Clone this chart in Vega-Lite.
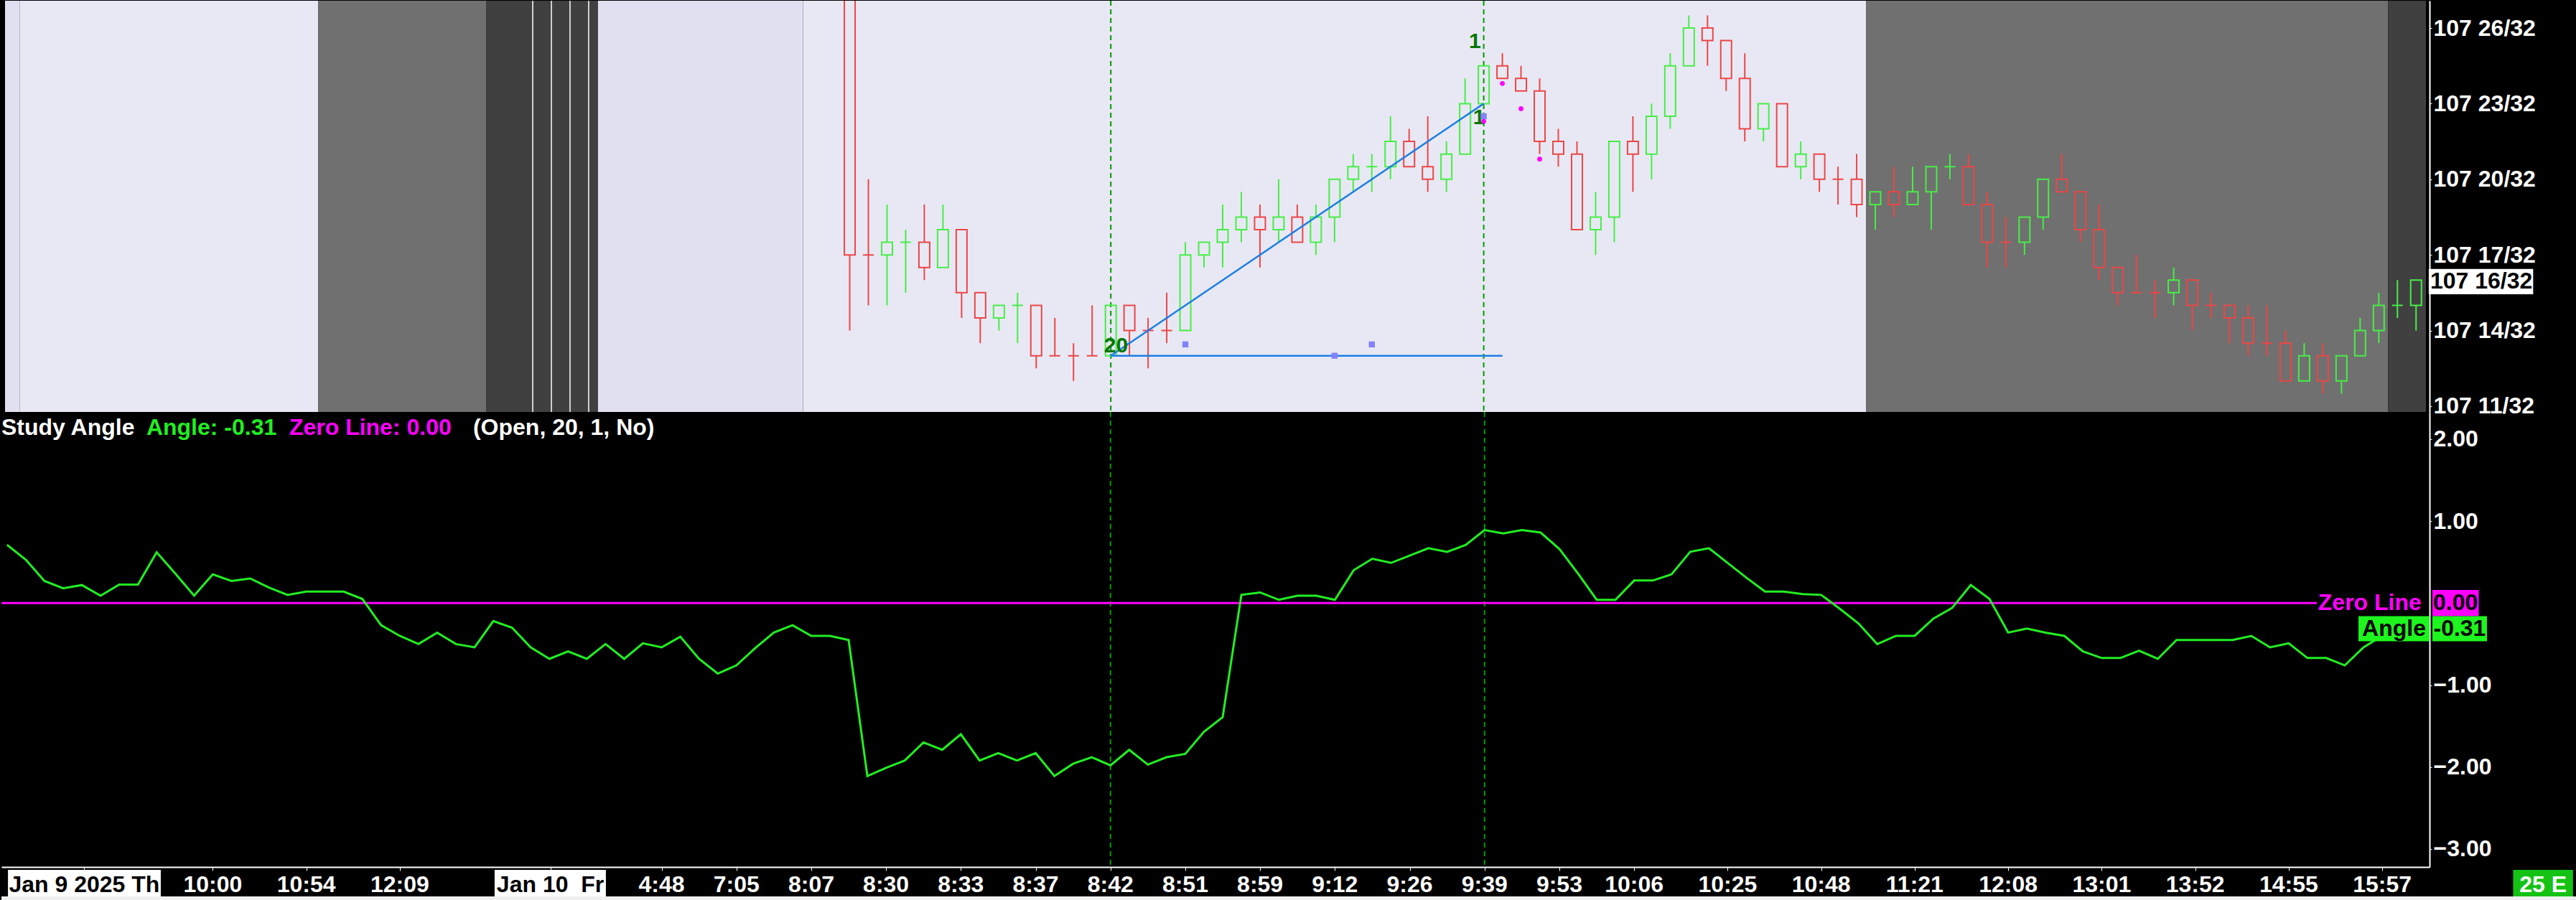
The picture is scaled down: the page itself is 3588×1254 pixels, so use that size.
{
  "$schema": "https://vega.github.io/schema/vega-lite/v6.json",
  "background": "black",
  "padding": {"left": 0, "top": 0, "right": 206, "bottom": 0},
  "bounds": "flush",
  "spacing": 0,
  "config": {
    "view": {"stroke": null},
    "font": "Liberation Sans",
    "concat": {"spacing": 0}
  },
  "resolve": {
    "scale": {"x": "independent", "y": "independent", "color": "independent"},
    "axis": {"x": "independent", "y": "independent"}
  },
  "datasets": {
    "one": [{}],
    "sessions": [
      {"a": -1.3, "b": -0.5, "k": "lav2"},
      {"a": -0.5, "b": 15.5, "k": "lav"},
      {"a": 15.5, "b": 24.5, "k": "gray"},
      {"a": 24.5, "b": 30.5, "k": "dark"},
      {"a": 30.5, "b": 41.5, "k": "lav2"},
      {"a": 41.5, "b": 98.5, "k": "lav"},
      {"a": 98.5, "b": 126.5, "k": "gray"},
      {"a": 126.5, "b": 128.53, "k": "dark"}
    ],
    "breaks": [{"i": 27}, {"i": 28}, {"i": 29}, {"i": 30}],
    "marks": [{"i": 58}, {"i": 78}],
    "candles": [
      {"i": 44, "o": 30, "h": 31, "l": 14, "c": 17, "d": "dn"},
      {"i": 45, "o": 17, "h": 20, "l": 15, "c": 17, "d": "dn"},
      {"i": 46, "o": 17, "h": 19, "l": 15, "c": 17.5, "d": "up"},
      {"i": 47, "o": 17.5, "h": 18, "l": 15.5, "c": 17.5, "d": "up"},
      {"i": 48, "o": 17.5, "h": 19, "l": 16, "c": 16.5, "d": "dn"},
      {"i": 49, "o": 16.5, "h": 19, "l": 16.5, "c": 18, "d": "up"},
      {"i": 50, "o": 18, "h": 18, "l": 14.5, "c": 15.5, "d": "dn"},
      {"i": 51, "o": 15.5, "h": 15.5, "l": 13.5, "c": 14.5, "d": "dn"},
      {"i": 52, "o": 14.5, "h": 15, "l": 14, "c": 15, "d": "up"},
      {"i": 53, "o": 15, "h": 15.5, "l": 13.5, "c": 15, "d": "up"},
      {"i": 54, "o": 15, "h": 15, "l": 12.5, "c": 13, "d": "dn"},
      {"i": 55, "o": 13, "h": 14.5, "l": 13, "c": 13, "d": "dn"},
      {"i": 56, "o": 13, "h": 13.5, "l": 12, "c": 13, "d": "dn"},
      {"i": 57, "o": 13, "h": 15, "l": 13, "c": 13, "d": "dn"},
      {"i": 58, "o": 13, "h": 15, "l": 13, "c": 15, "d": "up"},
      {"i": 59, "o": 15, "h": 15, "l": 13, "c": 14, "d": "dn"},
      {"i": 60, "o": 14, "h": 14.5, "l": 12.5, "c": 14, "d": "dn"},
      {"i": 61, "o": 14, "h": 15.5, "l": 13.5, "c": 14, "d": "dn"},
      {"i": 62, "o": 14, "h": 17.5, "l": 14, "c": 17, "d": "up"},
      {"i": 63, "o": 17, "h": 17.5, "l": 16.5, "c": 17.5, "d": "up"},
      {"i": 64, "o": 17.5, "h": 19, "l": 16.5, "c": 18, "d": "up"},
      {"i": 65, "o": 18, "h": 19.5, "l": 17.5, "c": 18.5, "d": "up"},
      {"i": 66, "o": 18.5, "h": 19, "l": 16.5, "c": 18, "d": "dn"},
      {"i": 67, "o": 18, "h": 20, "l": 17.5, "c": 18.5, "d": "up"},
      {"i": 68, "o": 18.5, "h": 19, "l": 17.5, "c": 17.5, "d": "dn"},
      {"i": 69, "o": 17.5, "h": 19, "l": 17, "c": 18.5, "d": "up"},
      {"i": 70, "o": 18.5, "h": 20, "l": 17.5, "c": 20, "d": "up"},
      {"i": 71, "o": 20, "h": 21, "l": 19.5, "c": 20.5, "d": "up"},
      {"i": 72, "o": 20.5, "h": 21, "l": 19.5, "c": 20.5, "d": "up"},
      {"i": 73, "o": 20.5, "h": 22.5, "l": 20, "c": 21.5, "d": "up"},
      {"i": 74, "o": 21.5, "h": 22, "l": 20.5, "c": 20.5, "d": "dn"},
      {"i": 75, "o": 20.5, "h": 22.5, "l": 19.5, "c": 20, "d": "dn"},
      {"i": 76, "o": 20, "h": 21.5, "l": 19.5, "c": 21, "d": "up"},
      {"i": 77, "o": 21, "h": 24, "l": 21, "c": 23, "d": "up"},
      {"i": 78, "o": 23, "h": 24.5, "l": 23, "c": 24.5, "d": "up"},
      {"i": 79, "o": 24.5, "h": 25, "l": 24, "c": 24, "d": "dn"},
      {"i": 80, "o": 24, "h": 24.5, "l": 23.5, "c": 23.5, "d": "dn"},
      {"i": 81, "o": 23.5, "h": 24, "l": 21, "c": 21.5, "d": "dn"},
      {"i": 82, "o": 21.5, "h": 22, "l": 20.5, "c": 21, "d": "dn"},
      {"i": 83, "o": 21, "h": 21.5, "l": 18, "c": 18, "d": "dn"},
      {"i": 84, "o": 18, "h": 19.5, "l": 17, "c": 18.5, "d": "up"},
      {"i": 85, "o": 18.5, "h": 21.5, "l": 17.5, "c": 21.5, "d": "up"},
      {"i": 86, "o": 21.5, "h": 22.5, "l": 19.5, "c": 21, "d": "dn"},
      {"i": 87, "o": 21, "h": 23, "l": 20, "c": 22.5, "d": "up"},
      {"i": 88, "o": 22.5, "h": 25, "l": 22, "c": 24.5, "d": "up"},
      {"i": 89, "o": 24.5, "h": 26.5, "l": 24.5, "c": 26, "d": "up"},
      {"i": 90, "o": 26, "h": 26.5, "l": 24.5, "c": 25.5, "d": "dn"},
      {"i": 91, "o": 25.5, "h": 25.5, "l": 23.5, "c": 24, "d": "dn"},
      {"i": 92, "o": 24, "h": 25, "l": 21.5, "c": 22, "d": "dn"},
      {"i": 93, "o": 22, "h": 23, "l": 21.5, "c": 23, "d": "up"},
      {"i": 94, "o": 23, "h": 23, "l": 20.5, "c": 20.5, "d": "dn"},
      {"i": 95, "o": 20.5, "h": 21.5, "l": 20, "c": 21, "d": "up"},
      {"i": 96, "o": 21, "h": 21, "l": 19.5, "c": 20, "d": "dn"},
      {"i": 97, "o": 20, "h": 20.5, "l": 19, "c": 20, "d": "dn"},
      {"i": 98, "o": 20, "h": 21, "l": 18.5, "c": 19, "d": "dn"},
      {"i": 99, "o": 19, "h": 19.5, "l": 18, "c": 19.5, "d": "up"},
      {"i": 100, "o": 19.5, "h": 20.5, "l": 18.5, "c": 19, "d": "dn"},
      {"i": 101, "o": 19, "h": 20.5, "l": 19, "c": 19.5, "d": "up"},
      {"i": 102, "o": 19.5, "h": 20.5, "l": 18, "c": 20.5, "d": "up"},
      {"i": 103, "o": 20.5, "h": 21, "l": 20, "c": 20.5, "d": "up"},
      {"i": 104, "o": 20.5, "h": 21, "l": 19, "c": 19, "d": "dn"},
      {"i": 105, "o": 19, "h": 19.5, "l": 16.5, "c": 17.5, "d": "dn"},
      {"i": 106, "o": 17.5, "h": 18.5, "l": 16.5, "c": 17.5, "d": "dn"},
      {"i": 107, "o": 17.5, "h": 18.5, "l": 17, "c": 18.5, "d": "up"},
      {"i": 108, "o": 18.5, "h": 20, "l": 18, "c": 20, "d": "up"},
      {"i": 109, "o": 20, "h": 21, "l": 19.5, "c": 19.5, "d": "dn"},
      {"i": 110, "o": 19.5, "h": 19.5, "l": 17.5, "c": 18, "d": "dn"},
      {"i": 111, "o": 18, "h": 19, "l": 16, "c": 16.5, "d": "dn"},
      {"i": 112, "o": 16.5, "h": 16.5, "l": 15, "c": 15.5, "d": "dn"},
      {"i": 113, "o": 15.5, "h": 17, "l": 15.5, "c": 15.5, "d": "dn"},
      {"i": 114, "o": 15.5, "h": 16, "l": 14.5, "c": 15.5, "d": "dn"},
      {"i": 115, "o": 15.5, "h": 16.5, "l": 15, "c": 16, "d": "up"},
      {"i": 116, "o": 16, "h": 16, "l": 14, "c": 15, "d": "dn"},
      {"i": 117, "o": 15, "h": 15.5, "l": 14.5, "c": 15, "d": "dn"},
      {"i": 118, "o": 15, "h": 15, "l": 13.5, "c": 14.5, "d": "dn"},
      {"i": 119, "o": 14.5, "h": 15, "l": 13, "c": 13.5, "d": "dn"},
      {"i": 120, "o": 13.5, "h": 15, "l": 13, "c": 13.5, "d": "dn"},
      {"i": 121, "o": 13.5, "h": 14, "l": 12, "c": 12, "d": "dn"},
      {"i": 122, "o": 12, "h": 13.5, "l": 12, "c": 13, "d": "up"},
      {"i": 123, "o": 13, "h": 13.5, "l": 11.5, "c": 12, "d": "dn"},
      {"i": 124, "o": 12, "h": 13, "l": 11.5, "c": 13, "d": "up"},
      {"i": 125, "o": 13, "h": 14.5, "l": 13, "c": 14, "d": "up"},
      {"i": 126, "o": 14, "h": 15.5, "l": 13.5, "c": 15, "d": "up"},
      {"i": 127, "o": 15, "h": 16, "l": 14.5, "c": 15, "d": "up"},
      {"i": 128, "o": 15, "h": 16, "l": 14, "c": 16, "d": "up"}
    ],
    "trend": [
      {"s": "a", "i": 58, "p": 13}, {"s": "a", "i": 78, "p": 23},
      {"s": "b", "i": 58, "p": 13}, {"s": "b", "i": 79, "p": 13}
    ],
    "pivots": [{"i": 62, "p": 13.45}, {"i": 70, "p": 13}, {"i": 72, "p": 13.45}, {"i": 78, "p": 22.5}],
    "dots": [{"i": 78, "p": 22.3}, {"i": 79, "p": 23.8}, {"i": 80, "p": 22.8}, {"i": 81, "p": 20.8}],
    "angle": [
      {"i": -1, "a": 0.71}, {"i": 0, "a": 0.53}, {"i": 1, "a": 0.27}, {"i": 2, "a": 0.18}, {"i": 3, "a": 0.22},
      {"i": 4, "a": 0.09}, {"i": 5, "a": 0.225}, {"i": 6, "a": 0.225}, {"i": 7, "a": 0.62}, {"i": 8, "a": 0.36},
      {"i": 9, "a": 0.09}, {"i": 10, "a": 0.35}, {"i": 11, "a": 0.27}, {"i": 12, "a": 0.3}, {"i": 13, "a": 0.19},
      {"i": 14, "a": 0.1}, {"i": 15, "a": 0.14}, {"i": 16, "a": 0.14}, {"i": 17, "a": 0.14}, {"i": 18, "a": 0.05},
      {"i": 19, "a": -0.27}, {"i": 20, "a": -0.4}, {"i": 21, "a": -0.5}, {"i": 22, "a": -0.36}, {"i": 23, "a": -0.5},
      {"i": 24, "a": -0.54}, {"i": 25, "a": -0.22}, {"i": 26, "a": -0.3}, {"i": 27, "a": -0.54}, {"i": 28, "a": -0.68},
      {"i": 29, "a": -0.59}, {"i": 30, "a": -0.68}, {"i": 31, "a": -0.5}, {"i": 32, "a": -0.68}, {"i": 33, "a": -0.49},
      {"i": 34, "a": -0.54}, {"i": 35, "a": -0.41}, {"i": 36, "a": -0.68}, {"i": 37, "a": -0.86}, {"i": 38, "a": -0.76},
      {"i": 39, "a": -0.55}, {"i": 40, "a": -0.36}, {"i": 41, "a": -0.27}, {"i": 42, "a": -0.4}, {"i": 43, "a": -0.4},
      {"i": 44, "a": -0.45}, {"i": 45, "a": -2.11}, {"i": 46, "a": -2.01}, {"i": 47, "a": -1.92}, {"i": 48, "a": -1.7},
      {"i": 49, "a": -1.79}, {"i": 50, "a": -1.6}, {"i": 51, "a": -1.92}, {"i": 52, "a": -1.83}, {"i": 53, "a": -1.92},
      {"i": 54, "a": -1.83}, {"i": 55, "a": -2.11}, {"i": 56, "a": -1.96}, {"i": 57, "a": -1.88}, {"i": 58, "a": -1.98},
      {"i": 59, "a": -1.79}, {"i": 60, "a": -1.97}, {"i": 61, "a": -1.88}, {"i": 62, "a": -1.84}, {"i": 63, "a": -1.57},
      {"i": 64, "a": -1.39}, {"i": 65, "a": 0.1}, {"i": 66, "a": 0.13}, {"i": 67, "a": 0.04}, {"i": 68, "a": 0.09},
      {"i": 69, "a": 0.09}, {"i": 70, "a": 0.04}, {"i": 71, "a": 0.4}, {"i": 72, "a": 0.54}, {"i": 73, "a": 0.49},
      {"i": 74, "a": 0.58}, {"i": 75, "a": 0.67}, {"i": 76, "a": 0.625}, {"i": 77, "a": 0.71}, {"i": 78, "a": 0.89},
      {"i": 79, "a": 0.85}, {"i": 80, "a": 0.89}, {"i": 81, "a": 0.86}, {"i": 82, "a": 0.66}, {"i": 83, "a": 0.36},
      {"i": 84, "a": 0.04}, {"i": 85, "a": 0.04}, {"i": 86, "a": 0.275}, {"i": 87, "a": 0.275}, {"i": 88, "a": 0.35},
      {"i": 89, "a": 0.625}, {"i": 90, "a": 0.67}, {"i": 91, "a": 0.49}, {"i": 92, "a": 0.31}, {"i": 93, "a": 0.14},
      {"i": 94, "a": 0.14}, {"i": 95, "a": 0.11}, {"i": 96, "a": 0.1}, {"i": 97, "a": -0.07}, {"i": 98, "a": -0.25},
      {"i": 99, "a": -0.5}, {"i": 100, "a": -0.4}, {"i": 101, "a": -0.4}, {"i": 102, "a": -0.19}, {"i": 103, "a": -0.06},
      {"i": 104, "a": 0.22}, {"i": 105, "a": 0.05}, {"i": 106, "a": -0.36}, {"i": 107, "a": -0.31}, {"i": 108, "a": -0.36},
      {"i": 109, "a": -0.4}, {"i": 110, "a": -0.59}, {"i": 111, "a": -0.67}, {"i": 112, "a": -0.67}, {"i": 113, "a": -0.58},
      {"i": 114, "a": -0.68}, {"i": 115, "a": -0.45}, {"i": 116, "a": -0.45}, {"i": 117, "a": -0.45}, {"i": 118, "a": -0.45},
      {"i": 119, "a": -0.4}, {"i": 120, "a": -0.54}, {"i": 121, "a": -0.49}, {"i": 122, "a": -0.67}, {"i": 123, "a": -0.67},
      {"i": 124, "a": -0.76}, {"i": 125, "a": -0.54}, {"i": 126, "a": -0.4}, {"i": 127, "a": -0.36}, {"i": 128, "a": -0.31}
    ],
    "times": [
      {"i": 10, "t": "10:00"}, {"i": 15, "t": "10:54"}, {"i": 20, "t": "12:09"}, {"i": 34, "t": "4:48"},
      {"i": 38, "t": "7:05"}, {"i": 42, "t": "8:07"}, {"i": 46, "t": "8:30"}, {"i": 50, "t": "8:33"},
      {"i": 54, "t": "8:37"}, {"i": 58, "t": "8:42"}, {"i": 62, "t": "8:51"}, {"i": 66, "t": "8:59"},
      {"i": 70, "t": "9:12"}, {"i": 74, "t": "9:26"}, {"i": 78, "t": "9:39"}, {"i": 82, "t": "9:53"},
      {"i": 86, "t": "10:06"}, {"i": 91, "t": "10:25"}, {"i": 96, "t": "10:48"}, {"i": 101, "t": "11:21"},
      {"i": 106, "t": "12:08"}, {"i": 111, "t": "13:01"}, {"i": 116, "t": "13:52"}, {"i": 121, "t": "14:55"},
      {"i": 126, "t": "15:57"}
    ],
    "dates": [
      {"t": "Jan 9 2025 Th", "a": -0.95, "b": 7.22, "m": 3.13},
      {"t": "Jan 10\u00a0 Fr", "a": 25.07, "b": 31.02, "m": 28.05}
    ]
  },
  "vconcat": [
    {
      "width": 3382,
      "height": 573,
      "layer": [
        {
          "data": {"name": "sessions"},
          "mark": {"type": "rect", "clip": true},
          "encoding": {
            "x": {"field": "a", "type": "quantitative", "scale": {"domain": [-1.3, 128.53], "nice": false, "zero": false}, "axis": null},
            "x2": {"field": "b"},
            "color": {"field": "k", "type": "nominal", "legend": null,
              "scale": {"domain": ["up", "dn", "lav", "lav2", "gray", "dark"], "range": ["#46ee46", "#ec4646", "#e8e8f4", "#e0e0f0", "#707070", "#404040"]}}
          }
        },
        {
          "data": {"name": "breaks"},
          "mark": {"type": "rule", "color": "#ffffff", "strokeWidth": 1.5},
          "encoding": {
            "x": {"field": "i", "type": "quantitative", "scale": {"domain": [-1.3, 128.53], "nice": false, "zero": false}, "axis": null}
          }
        },
        {
          "data": {"name": "marks"},
          "mark": {"type": "rule", "color": "#009a00", "strokeWidth": 2, "strokeDash": [7, 5]},
          "encoding": {
            "x": {"field": "i", "type": "quantitative", "scale": {"domain": [-1.3, 128.53], "nice": false, "zero": false}, "axis": null}
          }
        },
        {
          "data": {"name": "candles"},
          "mark": {"type": "bar", "filled": false, "size": 15, "strokeWidth": 2, "clip": true},
          "encoding": {
            "x": {"field": "i", "type": "quantitative", "scale": {"domain": [-1.3, 128.53], "nice": false, "zero": false}, "axis": null},
            "y": {"field": "o", "type": "quantitative", "scale": {"domain": [10.771, 27.082], "nice": false, "zero": false},
              "axis": {"orient": "right", "values": [11, 14, 17, 20, 23, 26], "labelExpr": "'107 ' + datum.value + '/32'",
                "title": null, "grid": false, "labelColor": "#ffffff", "labelFont": "Liberation Sans", "labelFontWeight": "bold",
                "labelFontSize": 32, "labelPadding": 2, "tickColor": "#ffffff", "tickSize": 3, "domainColor": "#ffffff", "domainWidth": 2, "labelBound": false}},
            "y2": {"field": "c"},
            "color": {"field": "d", "type": "nominal", "legend": null,
              "scale": {"domain": ["up", "dn", "lav", "lav2", "gray", "dark"], "range": ["#46ee46", "#ec4646", "#e8e8f4", "#e0e0f0", "#707070", "#404040"]}}
          }
        },
        {
          "data": {"name": "candles"},
          "transform": [
            {"fold": ["o", "c"], "as": ["k", "v"]},
            {"aggregate": [{"op": "max", "field": "v", "as": "top"}, {"op": "min", "field": "v", "as": "bot"}], "groupby": ["i", "h", "l", "d"]}
          ],
          "layer": [
            {
              "mark": {"type": "rule", "strokeWidth": 2, "clip": true},
              "encoding": {
                "x": {"field": "i", "type": "quantitative", "scale": {"domain": [-1.3, 128.53], "nice": false, "zero": false}, "axis": null},
                "y": {"field": "h", "type": "quantitative", "scale": {"domain": [10.771, 27.082], "nice": false, "zero": false}},
                "y2": {"field": "top"},
                "color": {"field": "d", "type": "nominal", "legend": null,
                  "scale": {"domain": ["up", "dn", "lav", "lav2", "gray", "dark"], "range": ["#46ee46", "#ec4646", "#e8e8f4", "#e0e0f0", "#707070", "#404040"]}}
              }
            },
            {
              "mark": {"type": "rule", "strokeWidth": 2, "clip": true},
              "encoding": {
                "x": {"field": "i", "type": "quantitative", "scale": {"domain": [-1.3, 128.53], "nice": false, "zero": false}, "axis": null},
                "y": {"field": "bot", "type": "quantitative", "scale": {"domain": [10.771, 27.082], "nice": false, "zero": false}},
                "y2": {"field": "l"},
                "color": {"field": "d", "type": "nominal", "legend": null,
                  "scale": {"domain": ["up", "dn", "lav", "lav2", "gray", "dark"], "range": ["#46ee46", "#ec4646", "#e8e8f4", "#e0e0f0", "#707070", "#404040"]}}
              }
            }
          ]
        },
        {
          "data": {"name": "trend"},
          "mark": {"type": "line", "color": "#1c7fe4", "strokeWidth": 2.5, "clip": true},
          "encoding": {
            "x": {"field": "i", "type": "quantitative", "scale": {"domain": [-1.3, 128.53], "nice": false, "zero": false}, "axis": null},
            "y": {"field": "p", "type": "quantitative", "scale": {"domain": [10.771, 27.082], "nice": false, "zero": false}},
            "detail": {"field": "s", "type": "nominal"}
          }
        },
        {
          "data": {"name": "one"},
          "mark": {"type": "text", "color": "#007800", "fontSize": 30, "fontWeight": "bold", "align": "center", "baseline": "alphabetic"},
          "encoding": {
            "x": {"datum": 58.28, "type": "quantitative", "scale": {"domain": [-1.3, 128.53], "nice": false, "zero": false}, "axis": null},
            "y": {"datum": 13.13, "type": "quantitative", "scale": {"domain": [10.771, 27.082], "nice": false, "zero": false}},
            "text": {"value": "20"}
          }
        },
        {
          "data": {"name": "one"},
          "mark": {"type": "text", "color": "#007800", "fontSize": 30, "fontWeight": "bold", "align": "center", "baseline": "alphabetic"},
          "encoding": {
            "x": {"datum": 77.53, "type": "quantitative", "scale": {"domain": [-1.3, 128.53], "nice": false, "zero": false}, "axis": null},
            "y": {"datum": 25.19, "type": "quantitative", "scale": {"domain": [10.771, 27.082], "nice": false, "zero": false}},
            "text": {"value": "1"}
          }
        },
        {
          "data": {"name": "one"},
          "mark": {"type": "text", "color": "#007800", "fontSize": 30, "fontWeight": "bold", "align": "center", "baseline": "alphabetic"},
          "encoding": {
            "x": {"datum": 77.75, "type": "quantitative", "scale": {"domain": [-1.3, 128.53], "nice": false, "zero": false}, "axis": null},
            "y": {"datum": 22.2, "type": "quantitative", "scale": {"domain": [10.771, 27.082], "nice": false, "zero": false}},
            "text": {"value": "1"}
          }
        },
        {
          "data": {"name": "pivots"},
          "mark": {"type": "point", "shape": "square", "filled": true, "color": "#8282ff", "size": 70, "opacity": 1},
          "encoding": {
            "x": {"field": "i", "type": "quantitative", "scale": {"domain": [-1.3, 128.53], "nice": false, "zero": false}, "axis": null},
            "y": {"field": "p", "type": "quantitative", "scale": {"domain": [10.771, 27.082], "nice": false, "zero": false}}
          }
        },
        {
          "data": {"name": "dots"},
          "mark": {"type": "circle", "color": "#ff00ff", "size": 45, "opacity": 1},
          "encoding": {
            "x": {"field": "i", "type": "quantitative", "scale": {"domain": [-1.3, 128.53], "nice": false, "zero": false}, "axis": null},
            "y": {"field": "p", "type": "quantitative", "scale": {"domain": [10.771, 27.082], "nice": false, "zero": false}}
          }
        },
        {
          "data": {"name": "one"},
          "mark": {"type": "rect", "color": "#ffffff", "clip": false},
          "encoding": {
            "x": {"datum": 128.68, "type": "quantitative", "scale": {"domain": [-1.3, 128.53], "nice": false, "zero": false}, "axis": null},
            "x2": {"datum": 134.28},
            "y": {"datum": 16.44, "type": "quantitative", "scale": {"domain": [10.771, 27.082], "nice": false, "zero": false}},
            "y2": {"datum": 15.44}
          }
        },
        {
          "data": {"name": "one"},
          "mark": {"type": "text", "color": "#000000", "fontSize": 32, "fontWeight": "bold", "align": "left", "baseline": "middle", "clip": false},
          "encoding": {
            "x": {"datum": 128.76, "type": "quantitative", "scale": {"domain": [-1.3, 128.53], "nice": false, "zero": false}, "axis": null},
            "y": {"datum": 15.94, "type": "quantitative", "scale": {"domain": [10.771, 27.082], "nice": false, "zero": false}},
            "text": {"value": "107 16/32"}
          }
        }
      ]
    },
    {
      "width": 3382,
      "height": 634,
      "layer": [
        {
          "data": {"name": "angle"},
          "mark": {"type": "line", "color": "#22ee22", "strokeWidth": 3, "strokeOpacity": 0, "clip": true},
          "encoding": {
            "x": {"field": "i", "type": "quantitative", "scale": {"domain": [-1.3, 128.53], "nice": false, "zero": false},
              "axis": {"orient": "bottom", "values": [3.13, 10, 15, 20, 28.05, 34, 38, 42, 46, 50, 54, 58, 62, 66, 70, 74, 78, 82, 86, 91, 96, 101, 106, 111, 116, 121, 126],
                "labels": false, "ticks": true, "tickSize": 5, "tickColor": "#ffffff", "domainColor": "#ffffff", "domainWidth": 2, "grid": false, "title": null}},
            "y": {"field": "a", "type": "quantitative", "scale": {"domain": [-3.219, 2.331], "nice": false, "zero": false},
              "axis": {"orient": "right", "values": [2, 1, -1, -2, -3], "format": ".2f", "title": null, "grid": false,
                "labelColor": "#ffffff", "labelFont": "Liberation Sans", "labelFontWeight": "bold", "labelFontSize": 32, "labelPadding": 2,
                "tickColor": "#ffffff", "tickSize": 3, "domainColor": "#ffffff", "domainWidth": 2}}
          }
        },
        {
          "data": {"name": "marks"},
          "mark": {"type": "rule", "color": "#009a00", "strokeWidth": 2, "strokeDash": [7, 5]},
          "encoding": {
            "x": {"field": "i", "type": "quantitative", "scale": {"domain": [-1.3, 128.53], "nice": false, "zero": false}}
          }
        },
        {
          "data": {"name": "one"},
          "mark": {"type": "rule", "color": "#ff00ff", "strokeWidth": 3},
          "encoding": {
            "x": {"datum": -1.3, "type": "quantitative", "scale": {"domain": [-1.3, 128.53], "nice": false, "zero": false}},
            "x2": {"datum": 122.5},
            "y": {"datum": 0, "type": "quantitative", "scale": {"domain": [-3.219, 2.331], "nice": false, "zero": false}}
          }
        },
        {
          "data": {"name": "angle"},
          "mark": {"type": "line", "color": "#22ee22", "strokeWidth": 3, "clip": true},
          "encoding": {
            "x": {"field": "i", "type": "quantitative", "scale": {"domain": [-1.3, 128.53], "nice": false, "zero": false}},
            "y": {"field": "a", "type": "quantitative", "scale": {"domain": [-3.219, 2.331], "nice": false, "zero": false}}
          }
        },
        {
          "data": {"name": "one"},
          "mark": {"type": "text", "color": "#ffffff", "fontSize": 32, "fontWeight": "bold", "align": "left", "baseline": "alphabetic"},
          "encoding": {
            "x": {"datum": -1.3, "type": "quantitative", "scale": {"domain": [-1.3, 128.53], "nice": false, "zero": false}},
            "y": {"datum": 2.053, "type": "quantitative", "scale": {"domain": [-3.219, 2.331], "nice": false, "zero": false}},
            "text": {"value": "Study Angle"}
          }
        },
        {
          "data": {"name": "one"},
          "mark": {"type": "text", "color": "#22ee22", "fontSize": 32, "fontWeight": "bold", "align": "left", "baseline": "alphabetic"},
          "encoding": {
            "x": {"datum": 6.45, "type": "quantitative", "scale": {"domain": [-1.3, 128.53], "nice": false, "zero": false}},
            "y": {"datum": 2.053, "type": "quantitative", "scale": {"domain": [-3.219, 2.331], "nice": false, "zero": false}},
            "text": {"value": "Angle: -0.31"}
          }
        },
        {
          "data": {"name": "one"},
          "mark": {"type": "text", "color": "#ff00ff", "fontSize": 32, "fontWeight": "bold", "align": "left", "baseline": "alphabetic"},
          "encoding": {
            "x": {"datum": 14.09, "type": "quantitative", "scale": {"domain": [-1.3, 128.53], "nice": false, "zero": false}},
            "y": {"datum": 2.053, "type": "quantitative", "scale": {"domain": [-3.219, 2.331], "nice": false, "zero": false}},
            "text": {"value": "Zero Line: 0.00"}
          }
        },
        {
          "data": {"name": "one"},
          "mark": {"type": "text", "color": "#ffffff", "fontSize": 32, "fontWeight": "bold", "align": "left", "baseline": "alphabetic"},
          "encoding": {
            "x": {"datum": 23.92, "type": "quantitative", "scale": {"domain": [-1.3, 128.53], "nice": false, "zero": false}},
            "y": {"datum": 2.053, "type": "quantitative", "scale": {"domain": [-3.219, 2.331], "nice": false, "zero": false}},
            "text": {"value": "(Open, 20, 1, No)"}
          }
        },
        {
          "data": {"name": "one"},
          "mark": {"type": "text", "color": "#ff00ff", "fontSize": 32, "fontWeight": "bold", "align": "right", "baseline": "middle", "clip": false},
          "encoding": {
            "x": {"datum": 128.1, "type": "quantitative", "scale": {"domain": [-1.3, 128.53], "nice": false, "zero": false}},
            "y": {"datum": 0, "type": "quantitative", "scale": {"domain": [-3.219, 2.331], "nice": false, "zero": false}},
            "text": {"value": "Zero Line"}
          }
        },
        {
          "data": {"name": "one"},
          "mark": {"type": "rect", "color": "#ff00ff", "clip": false},
          "encoding": {
            "x": {"datum": 128.68, "type": "quantitative", "scale": {"domain": [-1.3, 128.53], "nice": false, "zero": false}},
            "x2": {"datum": 131.16},
            "y": {"datum": 0.16, "type": "quantitative", "scale": {"domain": [-3.219, 2.331], "nice": false, "zero": false}},
            "y2": {"datum": -0.16}
          }
        },
        {
          "data": {"name": "one"},
          "mark": {"type": "rect", "color": "#1ef51e", "clip": false},
          "encoding": {
            "x": {"datum": 124.73, "type": "quantitative", "scale": {"domain": [-1.3, 128.53], "nice": false, "zero": false}},
            "x2": {"datum": 128.53},
            "y": {"datum": -0.16, "type": "quantitative", "scale": {"domain": [-3.219, 2.331], "nice": false, "zero": false}},
            "y2": {"datum": -0.465}
          }
        },
        {
          "data": {"name": "one"},
          "mark": {"type": "rect", "color": "#1ef51e", "clip": false},
          "encoding": {
            "x": {"datum": 128.68, "type": "quantitative", "scale": {"domain": [-1.3, 128.53], "nice": false, "zero": false}},
            "x2": {"datum": 131.6},
            "y": {"datum": -0.16, "type": "quantitative", "scale": {"domain": [-3.219, 2.331], "nice": false, "zero": false}},
            "y2": {"datum": -0.465}
          }
        },
        {
          "data": {"name": "one"},
          "mark": {"type": "text", "color": "#000000", "fontSize": 32, "fontWeight": "bold", "align": "center", "baseline": "middle", "clip": false},
          "encoding": {
            "x": {"datum": 129.92, "type": "quantitative", "scale": {"domain": [-1.3, 128.53], "nice": false, "zero": false}},
            "y": {"datum": 0, "type": "quantitative", "scale": {"domain": [-3.219, 2.331], "nice": false, "zero": false}},
            "text": {"value": "0.00"}
          }
        },
        {
          "data": {"name": "one"},
          "mark": {"type": "text", "color": "#000000", "fontSize": 32, "fontWeight": "bold", "align": "center", "baseline": "middle", "clip": false},
          "encoding": {
            "x": {"datum": 126.63, "type": "quantitative", "scale": {"domain": [-1.3, 128.53], "nice": false, "zero": false}},
            "y": {"datum": -0.31, "type": "quantitative", "scale": {"domain": [-3.219, 2.331], "nice": false, "zero": false}},
            "text": {"value": "Angle"}
          }
        },
        {
          "data": {"name": "one"},
          "mark": {"type": "text", "color": "#000000", "fontSize": 32, "fontWeight": "bold", "align": "center", "baseline": "middle", "clip": false},
          "encoding": {
            "x": {"datum": 130.14, "type": "quantitative", "scale": {"domain": [-1.3, 128.53], "nice": false, "zero": false}},
            "y": {"datum": -0.31, "type": "quantitative", "scale": {"domain": [-3.219, 2.331], "nice": false, "zero": false}},
            "text": {"value": "-0.31"}
          }
        }
      ]
    },
    {
      "width": 3382,
      "height": 41,
      "layer": [
        {
          "data": {"name": "dates"},
          "mark": {"type": "rect", "color": "#ffffff", "clip": false},
          "encoding": {
            "x": {"field": "a", "type": "quantitative", "scale": {"domain": [-1.3, 128.53], "nice": false, "zero": false}, "axis": null},
            "x2": {"field": "b"},
            "y": {"datum": 0.9, "type": "quantitative", "scale": {"domain": [0, 1], "nice": false, "zero": false}, "axis": null},
            "y2": {"datum": 0}
          }
        },
        {
          "data": {"name": "dates"},
          "mark": {"type": "text", "color": "#000000", "fontSize": 32, "fontWeight": "bold", "align": "center", "baseline": "alphabetic", "clip": false},
          "encoding": {
            "x": {"field": "m", "type": "quantitative", "scale": {"domain": [-1.3, 128.53], "nice": false, "zero": false}, "axis": null},
            "y": {"datum": 0.15, "type": "quantitative", "scale": {"domain": [0, 1], "nice": false, "zero": false}, "axis": null},
            "text": {"field": "t", "type": "nominal"}
          }
        },
        {
          "data": {"name": "times"},
          "mark": {"type": "text", "color": "#ffffff", "fontSize": 32, "fontWeight": "bold", "align": "center", "baseline": "alphabetic", "clip": false},
          "encoding": {
            "x": {"field": "i", "type": "quantitative", "scale": {"domain": [-1.3, 128.53], "nice": false, "zero": false}, "axis": null},
            "y": {"datum": 0.15, "type": "quantitative", "scale": {"domain": [0, 1], "nice": false, "zero": false}, "axis": null},
            "text": {"field": "t", "type": "nominal"}
          }
        },
        {
          "data": {"name": "one"},
          "mark": {"type": "rect", "color": "#14c214", "clip": false},
          "encoding": {
            "x": {"datum": 133.0, "type": "quantitative", "scale": {"domain": [-1.3, 128.53], "nice": false, "zero": false}, "axis": null},
            "x2": {"datum": 136.2},
            "y": {"datum": 0.9, "type": "quantitative", "scale": {"domain": [0, 1], "nice": false, "zero": false}, "axis": null},
            "y2": {"datum": 0}
          }
        },
        {
          "data": {"name": "one"},
          "mark": {"type": "text", "color": "#ffffff", "fontSize": 32, "fontWeight": "bold", "align": "center", "baseline": "alphabetic", "clip": false},
          "encoding": {
            "x": {"datum": 134.6, "type": "quantitative", "scale": {"domain": [-1.3, 128.53], "nice": false, "zero": false}, "axis": null},
            "y": {"datum": 0.15, "type": "quantitative", "scale": {"domain": [0, 1], "nice": false, "zero": false}, "axis": null},
            "text": {"value": "25 E"}
          }
        }
      ]
    },
    {
      "width": 3382,
      "height": 6,
      "data": {"name": "one"},
      "mark": {"type": "rect", "color": "#f0f0f0", "clip": false},
      "encoding": {
        "x": {"datum": -1.3, "type": "quantitative", "scale": {"domain": [-1.3, 128.53], "nice": false, "zero": false}, "axis": null},
        "x2": {"datum": 136.8}
      }
    }
  ]
}
